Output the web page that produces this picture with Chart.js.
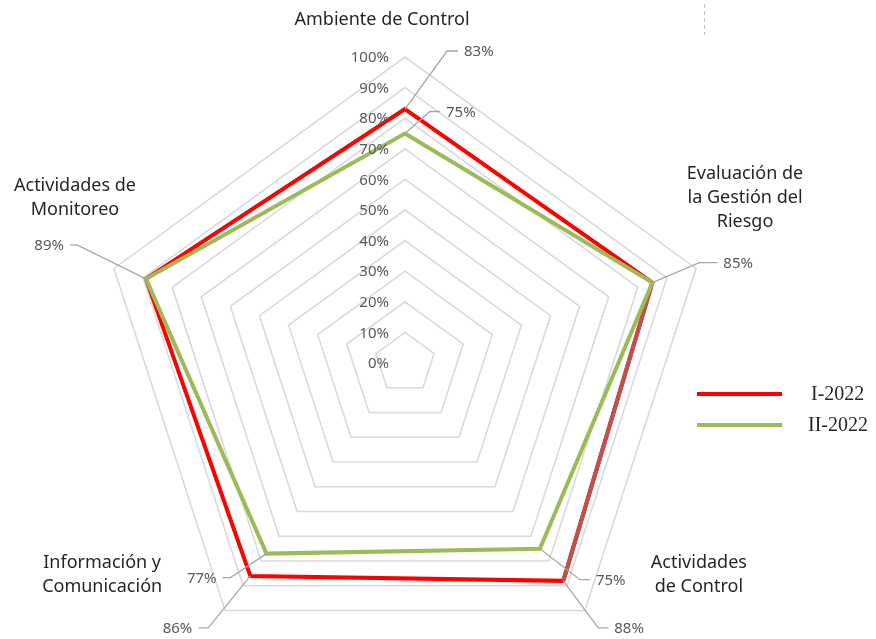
<!DOCTYPE html>
<html>
<head>
<meta charset="utf-8">
<script src="https://cdn.jsdelivr.net/npm/chart.js@4"></script>
<style>
  html, body { margin: 0; padding: 0; background: #ffffff; overflow: hidden; }
  #wrap { width: 876px; height: 639px; overflow: hidden; position: relative; }
</style>
</head>
<body>
<div id="wrap"><canvas id="c" width="876" height="700"></canvas></div>
<script>
// ---- data ----
const categories = [
  ["Ambiente de Control"],
  ["Evaluación de", "la Gestión del", "Riesgo"],
  ["Actividades", "de Control"],
  ["Información y", "Comunicación"],
  ["Actividades de", "Monitoreo"]
];
const seriesNames = ["I-2022", "II-2022"];
const valuesI = [83, 85, 88, 86, 89];
const valuesII = [75, 85, 75, 77, 89];
const tickValues = [0, 10, 20, 30, 40, 50, 60, 70, 80, 90, 100];

const RED = '#FF0000', RED_DARK = '#C0504D', GREEN = '#9BBB59';
const TXT = '#262626', GREY_TXT = '#595959', LEADER = '#A6A6A6', GRID = '#D9D9D9';
const LABEL_FONT = '18px "Noto Sans", "Open Sans", sans-serif';
const SMALL_FONT = '15px "Noto Sans", "Open Sans", sans-serif';

// leader-line layout per [dataset][category]: elbow dx,dy ; horizontal run
const leaderLayout = [
  [ {ex:42,ey:-58,run:11}, {ex:47,ey:-20,run:18}, {ex:35,ey:47,run:10}, {ex:-42,ey:52,run:-10}, {ex:-69,ey:-34,run:-7} ],
  [ {ex:25,ey:-22,run:10}, null, {ex:40,ey:31,run:10}, {ex:-36,ey:24,run:-8}, null ]
];
// point-label text offsets relative to the 100% vertex (centre of first line)
const catLabelLayout = [
  {dx:-23, dy:-37}, {dx:49, dy:-95}, {dx:114, dy:-48}, {dx:-123, dy:-48}, {dx:-39, dy:-83}
];

const overlay = {
  id: 'overlay',
  afterDatasetDraw(chart, args) {
    // darker tint on the I-2022 segment between categories 2 and 3 (as in the reference)
    if (args.index !== 0) return;
    const pts = args.meta.data;
    const ctx = chart.ctx;
    ctx.save();
    ctx.strokeStyle = RED_DARK;
    ctx.lineWidth = 4;
    ctx.lineCap = 'butt';
    ctx.beginPath();
    ctx.moveTo(pts[1].x, pts[1].y);
    ctx.lineTo(pts[2].x, pts[2].y);
    ctx.stroke();
    ctx.restore();
  },
  afterDatasetsDraw(chart) {
    const ctx = chart.ctx;
    const scale = chart.scales.r;
    ctx.save();
    // tick labels
    ctx.font = SMALL_FONT;
    ctx.fillStyle = GREY_TXT;
    ctx.textAlign = 'right';
    ctx.textBaseline = 'middle';
    tickValues.forEach(v => {
      const d = scale.getDistanceFromCenterForValue(v);
      ctx.fillText(v + '%', scale.xCenter - 16, scale.yCenter - d + 1);
    });
    // category labels
    ctx.font = LABEL_FONT;
    ctx.fillStyle = TXT;
    ctx.textAlign = 'center';
    categories.forEach((lines, i) => {
      const p = scale.getPointPosition(i, scale.drawingArea);
      const L = catLabelLayout[i];
      lines.forEach((t, k) => ctx.fillText(t, p.x + L.dx, p.y + L.dy + k * 24));
    });
    // data labels with leader lines
    ctx.font = SMALL_FONT;
    chart.data.datasets.forEach((ds, di) => {
      const meta = chart.getDatasetMeta(di);
      meta.data.forEach((pt, i) => {
        const L = leaderLayout[di][i];
        if (!L) return;
        const x0 = pt.x, y0 = pt.y;
        const x1 = x0 + L.ex, y1 = y0 + L.ey;
        const x2 = x1 + L.run;
        ctx.strokeStyle = LEADER;
        ctx.lineWidth = 1.3;
        ctx.beginPath();
        ctx.moveTo(x0, y0); ctx.lineTo(x1, y1); ctx.lineTo(x2, y1);
        ctx.stroke();
        ctx.fillStyle = GREY_TXT;
        ctx.textAlign = L.run >= 0 ? 'left' : 'right';
        ctx.fillText(ds.data[i] + '%', x2 + (L.run >= 0 ? 6 : -6), y1 + 1);
      });
    });
    // legend
    const legendItems = [{c: RED, y: 394}, {c: GREEN, y: 425}];
    ctx.font = '20px "Liberation Serif", "Times New Roman", serif';
    legendItems.forEach((it, k) => {
      ctx.strokeStyle = it.c;
      ctx.lineWidth = 4;
      ctx.beginPath(); ctx.moveTo(697, it.y); ctx.lineTo(782, it.y); ctx.stroke();
      ctx.fillStyle = TXT;
      ctx.textAlign = 'left';
      ctx.fillText(seriesNames[k], k === 0 ? 811 : 808, it.y + 1);
    });
    // small dashed mark at top right
    ctx.strokeStyle = '#BFBFBF';
    ctx.lineWidth = 1;
    ctx.setLineDash([4, 3]);
    ctx.beginPath(); ctx.moveTo(704.5, 4); ctx.lineTo(704.5, 35); ctx.stroke();
    ctx.restore();
  }
};

new Chart(document.getElementById('c'), {
  type: 'radar',
  data: {
    labels: categories,
    datasets: [
      {
        label: seriesNames[0], data: valuesI, borderColor: RED, backgroundColor: RED,
        borderWidth: 4, fill: false, order: 1
      },
      {
        label: seriesNames[1], data: valuesII, borderColor: GREEN, backgroundColor: GREEN,
        borderWidth: 4, fill: false, order: 0
      }
    ]
  },
  options: {
    responsive: false,
    devicePixelRatio: 1,
    animation: false,
    layout: { padding: { left: 99, right: 165, top: 57, bottom: 31 } },
    elements: {
      point: { radius: 0, hoverRadius: 0 },
      line: { tension: 0, borderJoinStyle: 'miter' }
    },
    plugins: { legend: { display: false }, tooltip: { enabled: false } },
    scales: {
      r: {
        min: 0, max: 100,
        ticks: { display: false, stepSize: 10 },
        grid: { color: GRID, lineWidth: 1.6 },
        angleLines: { display: false },
        pointLabels: { display: false }
      }
    }
  },
  plugins: [overlay]
});
</script>
</body>
</html>
